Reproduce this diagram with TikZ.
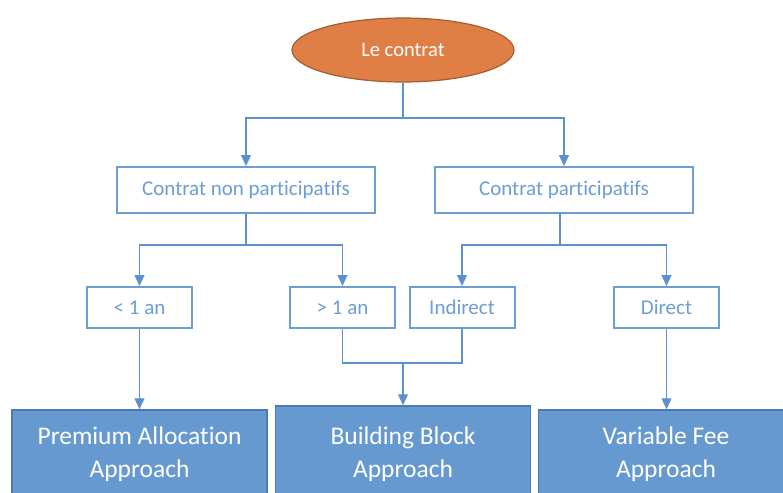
\documentclass[tikz,border=0pt]{standalone}
\usepackage{fontspec}
\setmainfont[Ligatures=NoCommon]{Carlito}
\usetikzlibrary{arrows.meta,shapes.geometric}
\definecolor{orangefill}{HTML}{E07F45}
\definecolor{orangeedge}{HTML}{A65C2C}
\definecolor{linkblue}{HTML}{5E90CE}
\definecolor{boxblue}{HTML}{6C9ED4}
\definecolor{deepfill}{HTML}{6699CF}
\definecolor{deepedge}{HTML}{4C7BB3}
\tikzset{
  rootnode/.style={ellipse, draw=orangeedge, line width=1.2pt, fill=orangefill,
    minimum width=222pt, minimum height=64pt, inner sep=0pt,
    text=white, font=\fontsize{20.5}{24}\selectfont},
  catbox/.style={rectangle, draw=boxblue, line width=2pt, fill=white,
    minimum width=258pt, minimum height=46pt, inner sep=0pt,
    text=boxblue, font=\fontsize{21}{24}\selectfont},
  subbox/.style={rectangle, draw=boxblue, line width=2pt, fill=white,
    minimum width=105pt, minimum height=41pt, inner sep=0pt,
    text=boxblue, font=\fontsize{21}{24}\selectfont},
  approach/.style={rectangle, draw=deepedge, line width=1.5pt, fill=deepfill,
    minimum width=255pt, minimum height=88pt, inner sep=0pt, align=center,
    text=white, font=\fontsize{25.5}{33}\selectfont},
  link/.style={draw=linkblue, line width=1.2pt},
  arr/.style={link, -{Triangle[width=10pt,length=11pt]}},
}
\begin{document}
\begin{tikzpicture}[x=1pt,y=-1pt]
  \clip (0,0) rectangle (783,492);
  \fill[white] (0,0) rectangle (783,492);

  % top of the tree
  \node[rootnode] (root) at (403,50) {Le contrat};

  % contract categories
  \node[catbox] (nonpart) at (246,190) {Contrat non participatifs};
  \node[catbox] (part) at (564,190) {Contrat participatifs};

  % sub-categories
  \node[subbox] (lt) at (139.5,307.5) {< 1 an};
  \node[subbox] (gt) at (342.5,307.5) {> 1 an};
  \node[subbox] (ind) at (462,307.5) {Indirect};
  \node[subbox] (dir) at (666.5,307.5) {Direct};

  % measurement approaches
  \node[approach] (paa) at (139.5,454) {Premium Allocation\\Approach};
  \node[approach, minimum height=96pt] (bba) at (403,454) {Building Block\\Approach};
  \node[approach] (vfa) at (666,454) {Variable Fee\\Approach};

  % junction points
  \coordinate (j1) at (403,118);
  \coordinate (j2) at (246,245);
  \coordinate (j3) at (560,245);
  \coordinate (j4) at (403,363);

  % connectors
  \draw[link] (root.south) -- (j1);
  \draw[arr] (j1) -| (nonpart.north);
  \draw[arr] (j1) -| (part.north);

  \draw[link] (part.south -| j3) -- (j3);
  \draw[link] (nonpart.south) -- (j2);
  \draw[arr] (j2) -| (lt.north);
  \draw[arr] (j2) -| (gt.north);

  \draw[arr] (j3) -| (ind.north);
  \draw[arr] (j3) -| (dir.north);

  \draw[arr] (lt.south) -- (paa.north -| lt.south);
  \draw[link] (gt.south) |- (j4) -| (ind.south);
  \draw[arr] (j4) -- (bba.north);
  \draw[arr] (dir.south) -- (vfa.north -| dir.south);
\end{tikzpicture}
\end{document}
